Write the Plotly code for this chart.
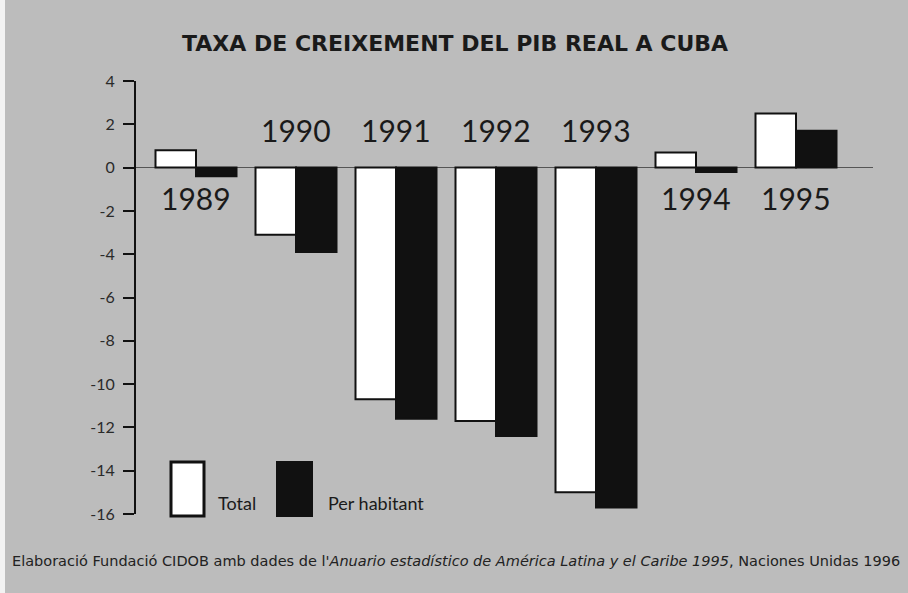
import plotly.graph_objects as go

years = ["1989", "1990", "1991", "1992", "1993", "1994", "1995"]
total = [0.8, -3.1, -10.7, -11.7, -15.0, 0.7, 2.5]
per_habitant = [-0.4, -3.9, -11.6, -12.4, -15.7, -0.2, 1.7]
label_above = [False, True, True, True, True, False, False]
y_ticks = [4, 2, 0, -2, -4, -6, -8, -10, -12, -14, -16]

BG = "#bcbcbc"
FONT = "Lato, 'Open Sans', sans-serif"
WIDE = "'DejaVu Sans', sans-serif"

W, H = 908, 593
ML, MR, MT, MB = 136, 35, 81, 79
ph = H - MT - MB
pw = W - ML - MR


def py(pix):
    return (H - MB - pix) / ph


def px(pix):
    return (pix - ML) / pw


fig = go.Figure()
fig.add_trace(go.Bar(x=years, y=total, name="Total",
                     marker=dict(color="white", line=dict(color="#111", width=2))))
fig.add_trace(go.Bar(x=years, y=per_habitant, name="Per habitant",
                     marker=dict(color="#111", line=dict(color="#111", width=2))))

annotations = []
for i, (yr, above) in enumerate(zip(years, label_above)):
    annotations.append(dict(x=i, y=1.76 if above else -1.4, xref="x", yref="y",
                            text=yr, showarrow=False, yanchor="middle",
                            font=dict(family=FONT, size=30, color="#1a1a1a")))

annotations.append(dict(x=px(455), y=py(44), xref="paper", yref="paper", yanchor="middle",
                        text="<b>TAXA DE CREIXEMENT DEL PIB REAL A CUBA</b>",
                        showarrow=False, font=dict(family=WIDE, size=22, color="#1a1a1a")))
annotations.append(dict(x=px(456), y=py(561), xref="paper", yref="paper", yanchor="middle",
                        text="Elaboració Fundació CIDOB amb dades de l'<i>Anuario estadístico de América Latina y el Caribe 1995</i>, Naciones Unidas 1996",
                        showarrow=False, font=dict(family=WIDE, size=14.5, color="#222")))
annotations.append(dict(x=px(216), y=py(503), xref="paper", yref="paper", text="Total",
                        xanchor="left", yanchor="middle",
                        showarrow=False, font=dict(family=FONT, size=18, color="#1a1a1a")))
annotations.append(dict(x=px(326), y=py(503), xref="paper", yref="paper", text="Per habitant",
                        xanchor="left", yanchor="middle",
                        showarrow=False, font=dict(family=FONT, size=18, color="#1a1a1a")))

shapes = [
    dict(type="rect", xref="paper", yref="paper", x0=px(171), x1=px(204), y0=py(516), y1=py(462),
         fillcolor="white", line=dict(color="#111", width=3)),
    dict(type="rect", xref="paper", yref="paper", x0=px(277), x1=px(312), y0=py(516), y1=py(462),
         fillcolor="#111", line=dict(color="#111", width=2)),
    dict(type="rect", xref="paper", yref="paper", x0=px(0), x1=px(5), y0=py(593), y1=py(0),
         fillcolor="#f2f2f2", line=dict(width=0), layer="below"),
]

fig.update_layout(
    width=W, height=H,
    margin=dict(l=ML, r=MR, t=MT, b=MB),
    paper_bgcolor=BG, plot_bgcolor=BG,
    barmode="group", bargap=0.19, bargroupgap=0,
    showlegend=False,
    xaxis=dict(type="category", range=[-0.6, 6.77], showticklabels=False, showgrid=False,
               zeroline=False, showline=False, ticks=""),
    yaxis=dict(range=[-16, 4], tickvals=y_ticks, ticktext=[str(v) for v in y_ticks],
               showgrid=False, zeroline=True, zerolinecolor="#555", zerolinewidth=1,
               showline=True, linecolor="#111", linewidth=2,
               ticks="outside", ticklen=11, tickwidth=2, tickcolor="#111",
               ticklabelstandoff=5,
               tickfont=dict(family=FONT, size=16, color="#2a2a2a")),
    font=dict(family=FONT),
    annotations=annotations, shapes=shapes,
)

fig.write_html("out.html", config={"displayModeBar": False},
               post_script="document.body.style.margin='0';document.body.style.padding='0';")
